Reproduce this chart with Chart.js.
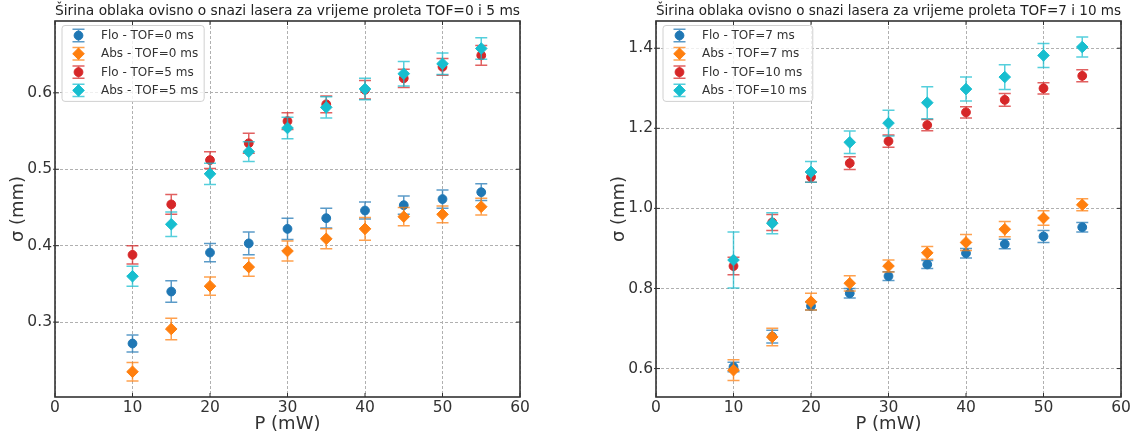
<!DOCTYPE html>
<html>
<head>
<meta charset="utf-8">
<script src="https://cdn.jsdelivr.net/npm/chart.js@4.4.1/dist/chart.umd.min.js"></script>
<style>
  body { margin: 0; background: #fff; }
  .panel { position: absolute; top: 0; width: 536px; height: 438px; }
</style>
</head>
<body>
<div class="panel" style="left:0"><canvas id="leftChart" width="536" height="438"></canvas></div>
<div class="panel" style="left:601px"><canvas id="rightChart" width="536" height="438"></canvas></div>
<script>
// laser power (mW)
const power = [10, 15, 20, 25, 30, 35, 40, 45, 50, 55];

// left panel: TOF = 0 and 5 ms
const floTof0 = [0.272, 0.340, 0.391, 0.403, 0.422, 0.436, 0.446, 0.453, 0.461, 0.470];
const floTof0Err = [0.011, 0.014, 0.012, 0.015, 0.014, 0.013, 0.011, 0.012, 0.012, 0.011];
const absTof0 = [0.235, 0.291, 0.347, 0.372, 0.393, 0.409, 0.422, 0.438, 0.441, 0.451];
const absTof0Err = [0.012, 0.014, 0.012, 0.012, 0.013, 0.013, 0.015, 0.012, 0.011, 0.011];
const floTof5 = [0.388, 0.454, 0.512, 0.534, 0.563, 0.585, 0.604, 0.619, 0.634, 0.649];
const floTof5Err = [0.012, 0.013, 0.011, 0.013, 0.011, 0.011, 0.012, 0.012, 0.011, 0.013];
const absTof5 = [0.360, 0.428, 0.494, 0.523, 0.554, 0.581, 0.605, 0.625, 0.638, 0.658];
const absTof5Err = [0.013, 0.016, 0.014, 0.013, 0.014, 0.014, 0.014, 0.016, 0.014, 0.014];

// right panel: TOF = 7 and 10 ms
const floTof7 = [0.604, 0.680, 0.756, 0.788, 0.831, 0.860, 0.888, 0.911, 0.930, 0.953];
const floTof7Err = [0.012, 0.016, 0.010, 0.012, 0.011, 0.010, 0.012, 0.012, 0.015, 0.012];
const absTof7 = [0.596, 0.679, 0.767, 0.813, 0.856, 0.889, 0.915, 0.948, 0.976, 1.009];
const absTof7Err = [0.026, 0.022, 0.021, 0.019, 0.015, 0.016, 0.020, 0.019, 0.018, 0.015];
const floTof10 = [0.856, 0.965, 1.078, 1.113, 1.168, 1.208, 1.240, 1.271, 1.300, 1.331];
const floTof10Err = [0.022, 0.020, 0.013, 0.016, 0.015, 0.014, 0.014, 0.016, 0.014, 0.015];
const absTof10 = [0.871, 0.963, 1.091, 1.165, 1.213, 1.264, 1.298, 1.328, 1.382, 1.403];
const absTof10Err = [0.070, 0.026, 0.026, 0.028, 0.032, 0.040, 0.030, 0.031, 0.030, 0.025];

// tick labels
const xTicks = [0, 10, 20, 30, 40, 50, 60];
const yTicksLeft = [0.3, 0.4, 0.5, 0.6];
const yTicksRight = [0.6, 0.8, 1.0, 1.2, 1.4];

const colors = {
  blue: "#1f77b4",
  orange: "#ff7f0e",
  red: "#d62728",
  cyan: "#17becf",
};

Chart.defaults.font.family = "'DejaVu Sans', sans-serif";

// vertical error bars, drawn just before the points of the same dataset
const errorBars = {
  id: "errorBars",
  beforeDatasetDraw(chart, args) {
    const ds = chart.data.datasets[args.index];
    if (!ds.errors) return;
    const { ctx } = chart;
    const x = chart.scales.x;
    const y = chart.scales.y;
    ctx.save();
    ctx.strokeStyle = ds.errorColor;
    ctx.lineWidth = 1.5;
    ds.data.forEach((pt, i) => {
      const px = x.getPixelForValue(pt.x);
      const top = y.getPixelForValue(pt.y + ds.errors[i]);
      const bottom = y.getPixelForValue(pt.y - ds.errors[i]);
      ctx.beginPath();
      ctx.moveTo(px, top);
      ctx.lineTo(px, bottom);
      ctx.moveTo(px - 6, top);
      ctx.lineTo(px + 6, top);
      ctx.moveTo(px - 6, bottom);
      ctx.lineTo(px + 6, bottom);
      ctx.stroke();
    });
    ctx.restore();
  },
};

// box round the plot with inward ticks on all four sides
const frame = {
  id: "frame",
  afterDatasetsDraw(chart) {
    const { ctx, chartArea: a } = chart;
    const x = chart.scales.x;
    const y = chart.scales.y;
    ctx.save();
    ctx.strokeStyle = "#333";
    ctx.lineWidth = 1;
    ctx.beginPath();
    x.ticks.forEach((t) => {
      const px = x.getPixelForValue(t.value);
      ctx.moveTo(px, a.bottom);
      ctx.lineTo(px, a.bottom - 4);
      ctx.moveTo(px, a.top);
      ctx.lineTo(px, a.top + 4);
    });
    y.ticks.forEach((t) => {
      const py = y.getPixelForValue(t.value);
      ctx.moveTo(a.left - 2, py);
      ctx.lineTo(a.left + 4, py);
      ctx.moveTo(a.right, py);
      ctx.lineTo(a.right - 4, py);
    });
    ctx.stroke();
    ctx.lineWidth = 1.6;
    ctx.strokeRect(a.left, a.top, a.right - a.left, a.bottom - a.top);
    ctx.restore();
  },
};

// legend inside the upper left corner of the plot
const insideLegend = {
  id: "insideLegend",
  afterDraw(chart) {
    const { ctx, chartArea: a } = chart;
    const datasets = chart.data.datasets;
    const left = a.left + 7;
    const top = a.top + 4.5;
    const rowGap = 18.3;
    ctx.save();
    ctx.font = "12px 'DejaVu Sans', sans-serif";
    const textWidth = Math.max(...datasets.map((d) => ctx.measureText(d.label).width));
    const width = 39 + textWidth + 6;
    const height = 20 + rowGap * (datasets.length - 1) + 1;
    ctx.beginPath();
    ctx.roundRect(left, top, width, height, 3);
    ctx.fillStyle = "rgba(255,255,255,0.8)";
    ctx.fill();
    ctx.strokeStyle = "#d0d0d0";
    ctx.lineWidth = 1;
    ctx.stroke();

    datasets.forEach((d, i) => {
      const cy = top + 10 + rowGap * i;
      const cx = left + 16.5;
      ctx.strokeStyle = d.errorColor;
      ctx.lineWidth = 1.5;
      ctx.beginPath();
      ctx.moveTo(cx, cy - 6.2);
      ctx.lineTo(cx, cy + 6.2);
      ctx.moveTo(cx - 6, cy - 6.2);
      ctx.lineTo(cx + 6, cy - 6.2);
      ctx.moveTo(cx - 6, cy + 6.2);
      ctx.lineTo(cx + 6, cy + 6.2);
      ctx.stroke();
      ctx.fillStyle = d.backgroundColor;
      ctx.strokeStyle = d.borderColor;
      ctx.lineWidth = d.borderWidth;
      Chart.helpers.drawPoint(ctx, { pointStyle: d.pointStyle, radius: d.pointRadius, rotation: 0, borderWidth: d.borderWidth }, cx, cy);
      ctx.fillStyle = "#333";
      ctx.textBaseline = "middle";
      ctx.textAlign = "left";
      ctx.fillText(d.label, left + 39, cy + 0.5);
    });
    ctx.restore();
  },
};

function series(label, values, errors, color, style, order) {
  return {
    label: label,
    data: power.map((p, i) => ({ x: p, y: values[i] })),
    errors: errors,
    errorColor: color + "bb",
    backgroundColor: color,
    borderColor: color,
    pointStyle: style,
    pointRadius: style === "circle" ? 4.4 : 5.8,
    borderWidth: 1,
    order: order,
  };
}

function makeChart(canvasId, title, datasets, yMin, yMax, yTicks) {
  return new Chart(document.getElementById(canvasId), {
    type: "scatter",
    data: { datasets: datasets },
    options: {
      responsive: false,
      animation: false,
      events: [],
      layout: { padding: { left: 0, right: 16, top: 0, bottom: 0 } },
      plugins: {
        legend: { display: false },
        tooltip: { enabled: false },
        title: {
          display: true,
          text: title,
          fullSize: false,
          color: "#222",
          font: { size: 14, weight: "normal", lineHeight: 1.2 },
          padding: { top: 3, bottom: 1.2 },
        },
      },
      scales: {
        x: {
          type: "linear",
          min: 0,
          max: 60,
          afterBuildTicks: (s) => {
            s.ticks = xTicks.map((v) => ({ value: v }));
          },
          afterFit: (s) => {
            s.height = 41;
          },
          ticks: { color: "#333", font: { size: 15.5 }, padding: 1.5 },
          grid: { color: "#b0b0b0", lineWidth: 1, drawTicks: false },
          border: { display: false, dash: [3, 2] },
          title: {
            display: true,
            text: "P (mW)",
            color: "#333",
            font: { size: 18 },
            padding: { top: 0, bottom: 3 },
          },
        },
        y: {
          type: "linear",
          min: yMin,
          max: yMax,
          afterBuildTicks: (s) => {
            s.ticks = yTicks.map((v) => ({ value: v }));
          },
          afterFit: (s) => {
            s.width = 55;
          },
          ticks: {
            color: "#333",
            font: { size: 15.5 },
            padding: 3,
            callback: (v) => Number(v).toFixed(1),
          },
          grid: { color: "#b0b0b0", lineWidth: 1, drawTicks: false },
          border: { display: false, dash: [3, 2] },
          title: {
            display: true,
            text: "σ (mm)",
            color: "#333",
            font: { size: 18 },
            padding: { top: 8, bottom: 0 },
          },
        },
      },
    },
    plugins: [errorBars, frame, insideLegend],
  });
}

makeChart(
  "leftChart",
  "Širina oblaka ovisno o snazi lasera za vrijeme proleta TOF=0 i 5 ms",
  [
    series("Flo - TOF=0 ms", floTof0, floTof0Err, colors.blue, "circle", 4),
    series("Abs - TOF=0 ms", absTof0, absTof0Err, colors.orange, "rectRot", 3),
    series("Flo - TOF=5 ms", floTof5, floTof5Err, colors.red, "circle", 2),
    series("Abs - TOF=5 ms", absTof5, absTof5Err, colors.cyan, "rectRot", 1),
  ],
  0.202,
  0.694,
  yTicksLeft
);

makeChart(
  "rightChart",
  "Širina oblaka ovisno o snazi lasera za vrijeme proleta TOF=7 i 10 ms",
  [
    series("Flo - TOF=7 ms", floTof7, floTof7Err, colors.blue, "circle", 4),
    series("Abs - TOF=7 ms", absTof7, absTof7Err, colors.orange, "rectRot", 3),
    series("Flo - TOF=10 ms", floTof10, floTof10Err, colors.red, "circle", 2),
    series("Abs - TOF=10 ms", absTof10, absTof10Err, colors.cyan, "rectRot", 1),
  ],
  0.529,
  1.468,
  yTicksRight
);
</script>
</body>
</html>
